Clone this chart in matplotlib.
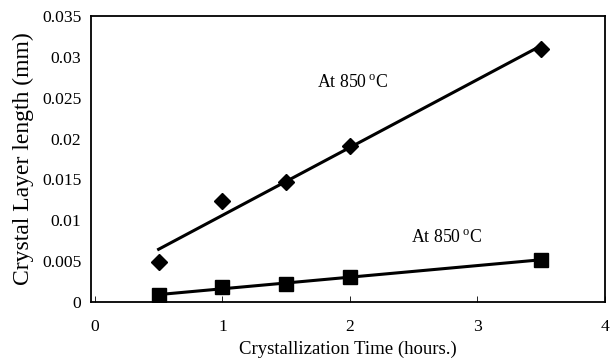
import numpy as np
import matplotlib
matplotlib.use("Agg")
import matplotlib.pyplot as plt
from matplotlib.ticker import FuncFormatter

plt.rcParams["font.family"] = ["Liberation Serif", "DejaVu Serif"]

# crystallization time (hours) and crystal layer length (mm)
time_h = [0.5, 1.0, 1.5, 2.0, 3.5]
upper_len = [0.0049, 0.0124, 0.0147, 0.0191, 0.0310]
lower_len = [0.00086, 0.0018, 0.0022, 0.0030, 0.0052]
x_ticks = [0, 1, 2, 3, 4]
y_ticks = [0, 0.005, 0.01, 0.015, 0.02, 0.025, 0.03, 0.035]
label_text = r"At 850$\,^{\mathregular{o}}$C"

fig = plt.figure(figsize=(6.13, 3.61), dpi=100)
ax = fig.add_axes([91 / 613, 1 - 302 / 361, (605 - 91) / 613, (302 - 16) / 361])

x = np.array(time_h)
for y, mk, ms in [(upper_len, "D", 8.5), (lower_len, "s", 10)]:
    y = np.array(y)
    z = np.polyfit(x, y, 1)
    ax.plot(x, np.polyval(z, x), color="black", lw=2.2)
    ax.plot(x, y, mk, color="black", ms=ms, linestyle="none")

ax.text(1.74, 0.0268, label_text, fontsize=12.8, va="center", ha="left")
ax.text(2.48, 0.0078, label_text, fontsize=12.8, va="center", ha="left")

ax.set_xlim(-0.03, 4.0)
ax.set_ylim(0, 0.035)
ax.set_xticks(x_ticks)
ax.set_yticks(y_ticks)
ax.yaxis.set_major_formatter(FuncFormatter(lambda v, p: "%g" % v))
ax.tick_params(axis="x", direction="in", length=4, width=0.6, labelsize=12.6, pad=12)
ax.tick_params(axis="y", length=0, labelsize=12.6, pad=7)
for s in ax.spines.values():
    s.set_linewidth(1.3)

ax.set_xlabel("Crystallization Time (hours.)", fontsize=13.5, labelpad=4)
ax.set_ylabel("Crystal Layer length (mm)", fontsize=17, labelpad=6)

fig.savefig("out.png", dpi=100)
